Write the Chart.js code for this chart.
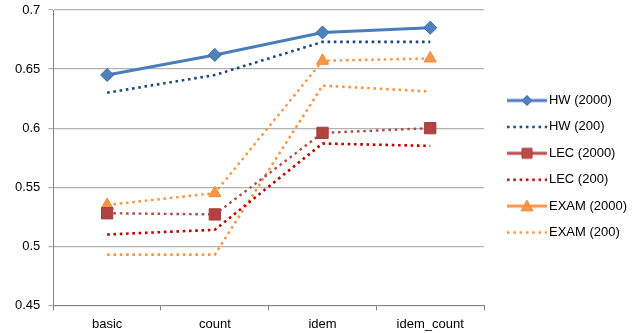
<!DOCTYPE html>
<html>
<head>
<meta charset="utf-8">
<script src="https://cdn.jsdelivr.net/npm/chart.js@4.4.1/dist/chart.umd.min.js"></script>
<style>
  html, body { margin: 0; padding: 0; background: #fff; }
  #wrap { width: 637px; height: 333px; }
</style>
</head>
<body>
<div id="wrap"><canvas id="myChart" width="637" height="333"></canvas></div>
<script>
const categories = ['basic', 'count', 'idem', 'idem_count'];
const hw2000 = [0.645, 0.662, 0.681, 0.685];
const hw200 = [0.630, 0.645, 0.673, 0.673];
const lec2000 = [0.528, 0.527, 0.596, 0.600];
const lec200 = [0.510, 0.514, 0.587, 0.585];
const exam2000 = [0.535, 0.545, 0.657, 0.659];
const exam200 = [0.493, 0.493, 0.636, 0.631];
const yMin = 0.45, yMax = 0.7, yStep = 0.05;

const FONT = 'Liberation Sans';
const DOT = [2.6, 3.7];

// legend symbol: 54px wide canvas, line drawn in its right 40px
function legendSymbol(color, dashed, width, marker, fill, stroke, size) {
    const c = document.createElement('canvas');
    c.width = 54; c.height = 16;
    const g = c.getContext('2d');
    const cx = 34;
    g.strokeStyle = color;
    g.lineWidth = width;
    if (dashed) g.setLineDash(DOT);
    g.beginPath();
    g.moveTo(14, 8); g.lineTo(54, 8);
    g.stroke();
    g.setLineDash([]);
    if (marker) {
        g.fillStyle = fill;
        g.strokeStyle = stroke;
        g.lineWidth = 1;
        g.beginPath();
        if (marker === 'diamond') {
            g.moveTo(cx - size, 8); g.lineTo(cx, 8 - size); g.lineTo(cx + size, 8); g.lineTo(cx, 8 + size);
        } else if (marker === 'square') {
            g.rect(cx - size, 8 - size, size * 2, size * 2);
        } else {
            g.moveTo(cx, 8 - size); g.lineTo(cx + size, 8 + size * 0.8); g.lineTo(cx - size, 8 + size * 0.8);
        }
        g.closePath();
        g.fill();
        g.stroke();
    }
    return c;
}

const symbols = [
    legendSymbol('#4a7ebb', false, 3, 'diamond', '#4f81bd', '#3d6aa1', 5),
    legendSymbol('#1f497d', true, 2.6),
    legendSymbol('#be4b48', false, 3, 'square', '#be4b48', '#a3403d', 5),
    legendSymbol('#c00000', true, 2.6),
    legendSymbol('#f79646', false, 3, 'triangle', '#f79646', '#f28b3a', 6),
    legendSymbol('#f79646', true, 2.6)
];

let ctx = document.getElementById('myChart').getContext('2d');
let chart = new Chart(ctx, {
    type: 'line',
    data: {
        labels: categories,
        datasets: [{
            label: 'HW (2000)',
            data: hw2000,
            borderColor: '#4a7ebb',
            borderWidth: 3,
            pointStyle: 'rectRot',
            pointRadius: 6.5,
            pointBackgroundColor: '#4f81bd',
            pointBorderColor: '#3d6aa1',
            pointBorderWidth: 1
        }, {
            label: 'HW (200)',
            data: hw200,
            borderColor: '#1f497d',
            borderWidth: 2.6,
            borderDash: DOT,
            pointRadius: 0
        }, {
            label: 'LEC (2000)',
            data: lec2000,
            borderColor: '#a8504e',
            borderWidth: 2.4,
            borderDash: DOT,
            pointStyle: 'rect',
            pointRadius: 8,
            pointBackgroundColor: '#b0423f',
            pointBorderColor: '#a3403d',
            pointBorderWidth: 1
        }, {
            label: 'LEC (200)',
            data: lec200,
            borderColor: '#c00000',
            borderWidth: 2.6,
            borderDash: DOT,
            pointRadius: 0
        }, {
            label: 'EXAM (2000)',
            data: exam2000,
            borderColor: '#f79646',
            borderWidth: 2.4,
            borderDash: DOT,
            pointStyle: 'triangle',
            pointRadius: 7,
            pointBackgroundColor: '#f79646',
            pointBorderColor: '#f28b3a',
            pointBorderWidth: 1
        }, {
            label: 'EXAM (200)',
            data: exam200,
            borderColor: '#f79646',
            borderWidth: 2.6,
            borderDash: DOT,
            pointRadius: 0
        }]
    },
    options: {
        responsive: false,
        animation: false,
        layout: { padding: { top: 0, right: 0, left: 7, bottom: 0 } },
        elements: { line: { tension: 0 } },
        scales: {
            x: {
                offset: true,
                grid: { offset: true, drawOnChartArea: false, tickLength: 5, color: '#868686' },
                border: { color: '#868686' },
                afterFit: s => { s.height = s.height - 5; },
                ticks: { color: '#000', font: { family: FONT, size: 13 }, padding: 6, maxRotation: 0 }
            },
            y: {
                min: yMin,
                max: yMax,
                grid: { color: '#b3b3b3', tickLength: 5, lineWidth: 1.2 },
                border: { color: '#868686' },
                afterFit: s => { s.paddingTop = 10; },
                ticks: {
                    stepSize: yStep,
                    color: '#000',
                    font: { family: FONT, size: 13 },
                    padding: 8,
                    callback: v => String(Number(v.toFixed(2)))
                }
            }
        },
        plugins: {
            tooltip: { enabled: false },
            legend: {
                position: 'right',
                labels: {
                    color: '#000',
                    font: { family: FONT, size: 13 },
                    usePointStyle: true,
                    pointStyleWidth: 45,
                    padding: 13.4,
                    generateLabels: c => c.data.datasets.map((ds, i) => ({
                        text: ds.label,
                        pointStyle: symbols[i],
                        datasetIndex: i,
                        fillStyle: 'transparent',
                        strokeStyle: 'transparent',
                        lineWidth: 0,
                        hidden: false
                    }))
                }
            }
        }
    }
});
</script>
</body>
</html>
